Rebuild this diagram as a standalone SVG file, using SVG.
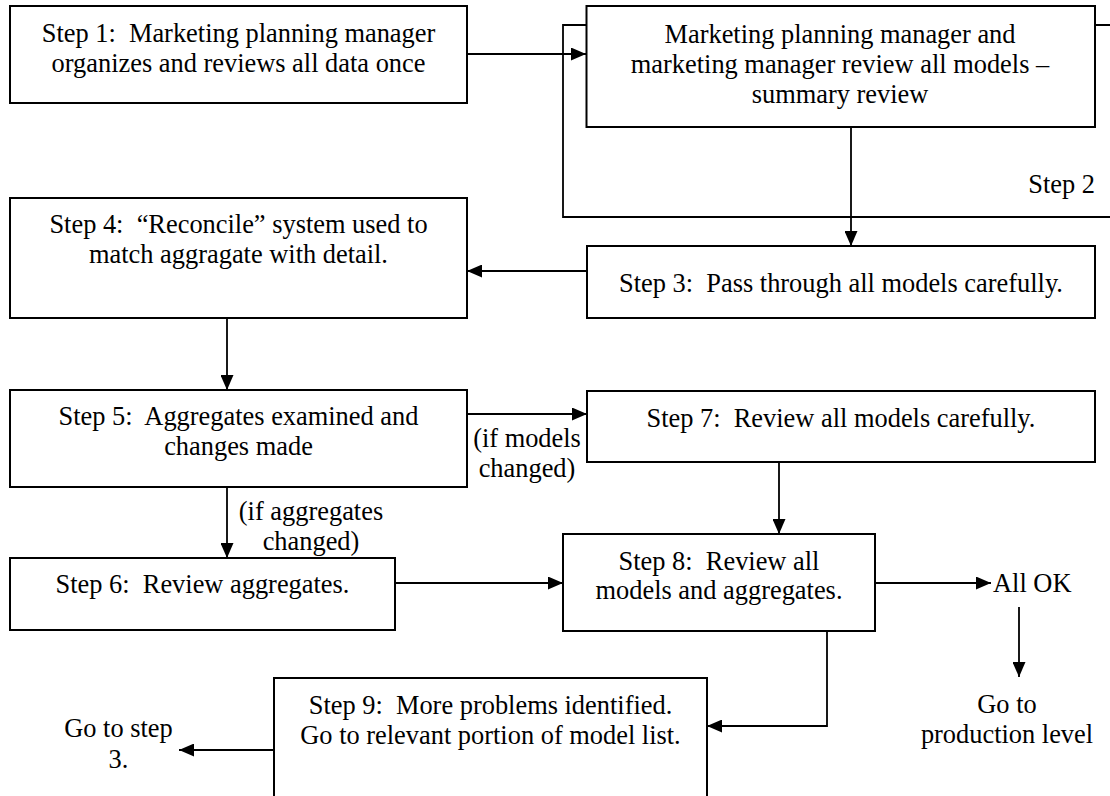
<svg xmlns="http://www.w3.org/2000/svg" width="1110" height="796" viewBox="0 0 1110 796">
<style>
.box{fill:#fff;stroke:#000;stroke-width:2}
.ln{fill:none;stroke:#000;stroke-width:1.8}
.t{font-family:"Liberation Serif","Times New Roman",serif;font-size:26.4px;fill:#000;white-space:pre}
.c{text-anchor:middle}
</style>
<defs>
<marker id="ah" viewBox="0 0 15 13" refX="15" refY="6.5" markerWidth="15" markerHeight="13" markerUnits="userSpaceOnUse" orient="auto">
<path d="M0,0 L15,6.5 L0,13 z" fill="#000"/>
</marker>
</defs>
<rect width="1110" height="796" fill="#fff"/>
<g id="step2-bracket">
<path class="ln" d="M586,25 H563 V217 H1110 M1095,25 H1110"/>
<text class="t" x="1095" y="193" text-anchor="end">Step 2</text>
</g>
<g id="connectors">
<line class="ln" x1="467" y1="54" x2="586" y2="54" marker-end="url(#ah)"/>
<line class="ln" x1="851" y1="127" x2="851" y2="246" marker-end="url(#ah)"/>
<line class="ln" x1="587" y1="271" x2="467" y2="271" marker-end="url(#ah)"/>
<line class="ln" x1="227" y1="318" x2="227" y2="390" marker-end="url(#ah)"/>
<line class="ln" x1="467" y1="414" x2="587" y2="414" marker-end="url(#ah)"/>
<line class="ln" x1="779" y1="462" x2="779" y2="534" marker-end="url(#ah)"/>
<line class="ln" x1="227" y1="487" x2="227" y2="558" marker-end="url(#ah)"/>
<line class="ln" x1="395" y1="583" x2="563" y2="583" marker-end="url(#ah)"/>
<line class="ln" x1="875" y1="583" x2="991" y2="583" marker-end="url(#ah)"/>
<line class="ln" x1="1019" y1="607" x2="1019" y2="677" marker-end="url(#ah)"/>
<polyline class="ln" points="827,631 827,726 707,726" marker-end="url(#ah)"/>
<line class="ln" x1="274" y1="750" x2="179" y2="750" marker-end="url(#ah)"/>
<text class="t c" x="527" y="447">(if models</text>
<text class="t c" x="527" y="477">changed)</text>
<text class="t c" x="311" y="520">(if aggregates</text>
<text class="t c" x="311" y="550">changed)</text>
</g>
<g id="step1">
<rect class="box" x="10" y="6" width="457" height="97"/>
<text class="t c" x="238.5" y="42">Step 1:  Marketing planning manager</text>
<text class="t c" x="238.5" y="72">organizes and reviews all data once</text>
</g>
<g id="step2">
<rect class="box" x="586.5" y="6" width="508.5" height="121"/>
<text class="t c" x="840" y="43">Marketing planning manager and</text>
<text class="t c" x="840" y="73">marketing manager review all models –</text>
<text class="t c" x="840" y="103">summary review</text>
</g>
<g id="step3">
<rect class="box" x="587" y="246" width="508" height="72"/>
<text class="t c" x="841" y="292">Step 3:  Pass through all models carefully.</text>
</g>
<g id="step4">
<rect class="box" x="10" y="198" width="457" height="120"/>
<text class="t c" x="238.5" y="233">Step 4:  “Reconcile” system used to</text>
<text class="t c" x="238.5" y="263">match aggragate with detail.</text>
</g>
<g id="step5">
<rect class="box" x="10" y="390" width="457" height="97"/>
<text class="t c" x="238.5" y="425">Step 5:  Aggregates examined and</text>
<text class="t c" x="238.5" y="455">changes made</text>
</g>
<g id="step6">
<rect class="box" x="10" y="558" width="385" height="72"/>
<text class="t c" x="202.5" y="593">Step 6:  Review aggregates.</text>
</g>
<g id="step7">
<rect class="box" x="587" y="391" width="508" height="71"/>
<text class="t c" x="841" y="427">Step 7:  Review all models carefully.</text>
</g>
<g id="step8">
<rect class="box" x="563" y="534" width="312" height="97"/>
<text class="t c" x="719" y="570">Step 8:  Review all</text>
<text class="t c" x="719" y="599">models and aggregates.</text>
</g>
<g id="allok">
<text class="t" x="993" y="592">All OK</text>
</g>
<g id="production">
<text class="t c" x="1007" y="713">Go to</text>
<text class="t c" x="1007" y="743">production level</text>
</g>
<g id="step9">
<rect class="box" x="274" y="678" width="433" height="130"/>
<text class="t c" x="490.5" y="714">Step 9:  More problems identified.</text>
<text class="t c" x="490.5" y="744">Go to relevant portion of model list.</text>
</g>
<g id="gotostep3">
<text class="t c" x="118.5" y="737">Go to step</text>
<text class="t c" x="118.5" y="768">3.</text>
</g>
</svg>
